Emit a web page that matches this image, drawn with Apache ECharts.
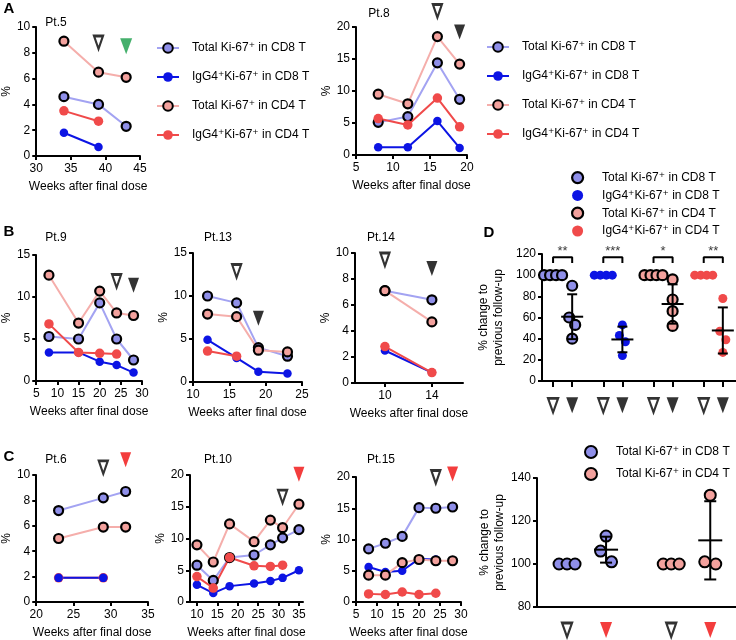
<!DOCTYPE html>
<html><head><meta charset="utf-8">
<script src="https://cdn.jsdelivr.net/npm/echarts@6/dist/echarts.min.js"></script>
<style>html,body{margin:0;padding:0;background:#fff}#c{width:736px;height:640px}</style>
</head><body><div id="c"></div>
<script>
// ================= DATA =================
const NAMES = ['Total Ki-67⁺ in CD8 T', 'IgG4⁺Ki-67⁺ in CD8 T', 'Total Ki-67⁺ in CD4 T', 'IgG4⁺Ki-67⁺ in CD4 T'];
const X_NAME = 'Weeks after final dose';
const Y_NAME = '%';
const D_Y_NAME = '% change to\nprevious follow-up';

// Pt.5
const pt5Weeks = [34, 39, 43];
const pt5TotalCD8 = [4.6, 4.0, 2.3];
const pt5IgG4CD8 = [1.8, 0.7];
const pt5TotalCD4 = [8.9, 6.5, 6.1];
const pt5IgG4CD4 = [3.5, 2.7];
const pt5ArrowWeeks = [39, 43];
const pt5ArrowLevels = [8.8, 8.5];
const pt5ArrowKinds = ['open', 'green'];

// Pt.8
const pt8Weeks = [8, 12, 16, 19];
const pt8TotalCD8 = [5.1, 6.0, 14.4, 8.7];
const pt8IgG4CD8 = [1.2, 1.2, 5.3, 1.1];
const pt8TotalCD4 = [9.5, 8.0, 18.5, 14.2];
const pt8IgG4CD4 = [5.7, 4.7, 8.9, 4.4];
const pt8ArrowWeeks = [16, 19];
const pt8ArrowLevels = [22.5, 19.2];
const pt8ArrowKinds = ['open', 'black'];

// Pt.9
const pt9Weeks = [8, 15, 20, 24, 28];
const pt9TotalCD8 = [5.3, 5.0, 9.3, 5.0, 2.5];
const pt9IgG4CD8 = [3.4, 3.4, 2.3, 1.9, 1.0];
const pt9TotalCD4 = [12.6, 6.9, 10.7, 8.1, 7.8];
const pt9IgG4CD4 = [6.8, 3.4, 3.3, 3.2];
const pt9ArrowWeeks = [24, 28];
const pt9ArrowLevels = [11.9, 11.4];
const pt9ArrowKinds = ['open', 'black'];

// Pt.13
const pt13Weeks = [12, 16, 19, 23];
const pt13TotalCD8 = [10.0, 9.2, 4.0, 3.0];
const pt13IgG4CD8 = [4.9, 2.8, 1.2, 1.0];
const pt13TotalCD4 = [7.9, 7.6, 3.7, 3.5];
const pt13IgG4CD4 = [3.6, 3.0];
const pt13ArrowWeeks = [16, 19];
const pt13ArrowLevels = [12.9, 7.4];
const pt13ArrowKinds = ['open', 'black'];

// Pt.14
const pt14Weeks = [10, 14];
const pt14TotalCD8 = [7.1, 6.4];
const pt14IgG4CD8 = [2.5, 0.8];
const pt14TotalCD4 = [7.1, 4.7];
const pt14IgG4CD4 = [2.8, 0.8];
const pt14ArrowWeeks = [10, 14];
const pt14ArrowLevels = [9.5, 8.8];
const pt14ArrowKinds = ['open', 'black'];
const pt14XTicks = [10, 14];

// Pt.6
const pt6Weeks = [23, 29, 32];
const pt6TotalCD8 = [7.2, 8.2, 8.7];
const pt6IgG4CD8 = [1.9, 1.9];
const pt6TotalCD4 = [5.0, 5.9, 5.9];
const pt6IgG4CD4 = [1.9, 1.9];
const pt6ArrowWeeks = [29, 32];
const pt6ArrowLevels = [10.6, 11.2];
const pt6ArrowKinds = ['open', 'red'];

// Pt.10
const pt10Weeks = [10, 14, 18, 24, 28, 31, 35];
const pt10TotalCD8 = [5.8, 3.4, 7.0, 7.4, 9.0, 10.1, 11.4];
const pt10IgG4CD8 = [2.7, 1.4, 2.5, 2.9, 3.3, 3.8, 5.0];
const pt10TotalCD4 = [9.0, 6.3, 12.3, 9.5, 12.9, 11.7, 15.4];
const pt10IgG4CD4 = [4.0, 2.2, 7.0, 5.7, 5.6, 5.8];
const pt10ArrowWeeks = [31, 35];
const pt10ArrowLevels = [16.6, 20.1];
const pt10ArrowKinds = ['open', 'red'];
const pt10XTicks = [10, 15, 20, 25, 30, 35];

// Pt.15
const pt15Weeks = [8, 12, 16, 20, 24, 28];
const pt15TotalCD8 = [8.5, 9.4, 10.5, 15.1, 15.0, 15.2];
const pt15IgG4CD8 = [5.6, 4.8, 5.0, 6.9, 6.8];
const pt15TotalCD4 = [4.3, 4.3, 6.3, 6.8, 6.6, 6.6];
const pt15IgG4CD4 = [1.3, 1.2, 1.6, 1.2, 1.4];
const pt15ArrowWeeks = [24, 28];
const pt15ArrowLevels = [20.0, 20.5];
const pt15ArrowKinds = ['open', 'red'];

// Panel D: % change to previous follow-up (before = open arrow, after = filled arrow)
const dBefore = [[100, 100, 100, 100], [100, 100, 100, 100], [100, 100, 100, 100], [100, 100, 100, 100]];
const dAfter = [[90, 60, 53, 40], [53, 43, 37, 24], [96, 77, 66, 52], [78, 47, 39, 27]];
const dStars = ['**', '***', '*', '**'];
const dYTicks = [0, 120, 20];

// Bottom-right panel (C summary)
const eBefore = [[100, 100, 100], [100, 100, 100]];
const eAfter = [[113, 106, 101], [132, 101, 100]];
const eYTicks = [80, 140, 20];

// ================= STYLE / LAYOUT =================
const FONT = "'Liberation Sans', Arial, 'DejaVu Sans', sans-serif";
const STY = [
  {color: '#8f8fe9', line: '#a3a3f2', size: 9, border: '#000', bw: 2.2},
  {color: '#0c14e4', line: '#0c14e4', size: 8.5, border: null, bw: 0},
  {color: '#f3a19d', line: '#f5aeab', size: 9, border: '#000', bw: 2.2},
  {color: '#f04a4a', line: '#f04a4a', size: 9.5, border: null, bw: 0}
];
const ARROW = {
  open: {size: [9, 13], style: {color: '#fff', borderColor: '#000', borderWidth: 2.4}},
  black: {size: [11, 15], style: {color: '#000'}},
  green: {size: [12, 16], style: {color: '#169c47'}},
  red: {size: [11, 15], style: {color: '#f00c0c'}}
};

const linePanels = [
  {title: 'Pt.5', tx: 56, ty: 23, g: [33, 27, 107, 129], x: [30, 45, 5], y: [0, 10, 2],
   weeks: pt5Weeks, vals: [pt5TotalCD8, pt5IgG4CD8, pt5TotalCD4, pt5IgG4CD4],
   aw: pt5ArrowWeeks, al: pt5ArrowLevels, ak: pt5ArrowKinds},
  {title: 'Pt.8', tx: 379, ty: 14, g: [356, 27, 111, 128], x: [5, 20, 5], y: [0, 20, 5],
   weeks: pt8Weeks, vals: [pt8TotalCD8, pt8IgG4CD8, pt8TotalCD4, pt8IgG4CD4],
   aw: pt8ArrowWeeks, al: pt8ArrowLevels, ak: pt8ArrowKinds},
  {title: 'Pt.9', tx: 56, ty: 238, g: [32, 255, 110, 126], x: [5, 30, 5], y: [0, 15, 5],
   weeks: pt9Weeks, vals: [pt9TotalCD8, pt9IgG4CD8, pt9TotalCD4, pt9IgG4CD4],
   aw: pt9ArrowWeeks, al: pt9ArrowLevels, ak: pt9ArrowKinds},
  {title: 'Pt.13', tx: 218, ty: 238, g: [193, 253, 109, 129], x: [10, 25, 5], y: [0, 15, 5],
   weeks: pt13Weeks, vals: [pt13TotalCD8, pt13IgG4CD8, pt13TotalCD4, pt13IgG4CD4],
   aw: pt13ArrowWeeks, al: pt13ArrowLevels, ak: pt13ArrowKinds},
  {title: 'Pt.14', tx: 381, ty: 238, g: [355, 253, 108, 130], x: [7.45, 16.65, null], xTicks: pt14XTicks, y: [0, 10, 2],
   weeks: pt14Weeks, vals: [pt14TotalCD8, pt14IgG4CD8, pt14TotalCD4, pt14IgG4CD4],
   aw: pt14ArrowWeeks, al: pt14ArrowLevels, ak: pt14ArrowKinds},
  {title: 'Pt.6', tx: 56, ty: 460, g: [35, 475, 113, 130], x: [20, 35, 5], y: [0, 10, 2],
   weeks: pt6Weeks, vals: [pt6TotalCD8, pt6IgG4CD8, pt6TotalCD4, pt6IgG4CD4], order: [0, 2, 3, 1],
   aw: pt6ArrowWeeks, al: pt6ArrowLevels, ak: pt6ArrowKinds},
  {title: 'Pt.10', tx: 218, ty: 460, g: [190, 475, 113, 130], x: [8.3, 36, null], xTicks: pt10XTicks, y: [0, 20, 5],
   weeks: pt10Weeks, vals: [pt10TotalCD8, pt10IgG4CD8, pt10TotalCD4, pt10IgG4CD4],
   aw: pt10ArrowWeeks, al: pt10ArrowLevels, ak: pt10ArrowKinds},
  {title: 'Pt.15', tx: 381, ty: 460, g: [356, 477, 105, 128], x: [5, 30, 5], y: [0, 20, 5],
   weeks: pt15Weeks, vals: [pt15TotalCD8, pt15IgG4CD8, pt15TotalCD4, pt15IgG4CD4],
   aw: pt15ArrowWeeks, al: pt15ArrowLevels, ak: pt15ArrowKinds}
];

const AX_LINE = {show: true, lineStyle: {color: '#000', width: 2}};
const AX_TICK = {show: true, length: 4, lineStyle: {color: '#000', width: 2}};
const AX_LABEL = {color: '#000', fontSize: 12, fontFamily: FONT};

const grids = [], xAxes = [], yAxes = [], series = [], graphics = [];

linePanels.forEach((p, i) => {
  grids.push({left: p.g[0], top: p.g[1], width: p.g[2], height: p.g[3]});
  const xa = {type: 'value', gridIndex: i, min: p.x[0], max: p.x[1],
    axisLine: AX_LINE, axisTick: Object.assign({}, AX_TICK), splitLine: {show: false},
    axisLabel: Object.assign({margin: 7}, AX_LABEL),
    name: X_NAME, nameLocation: 'middle', nameGap: 25,
    nameTextStyle: {color: '#000', fontSize: 12, fontFamily: FONT}};
  if (p.xTicks) {
    xa.axisLabel.customValues = p.xTicks;
    xa.axisTick.customValues = p.xTicks;
  } else {
    xa.interval = p.x[2];
  }
  xAxes.push(xa);
  yAxes.push({type: 'value', gridIndex: i, min: p.y[0], max: p.y[1], interval: p.y[2],
    axisLine: AX_LINE, axisTick: AX_TICK, splitLine: {show: false},
    axisLabel: Object.assign({margin: 6}, AX_LABEL),
    name: Y_NAME, nameLocation: 'middle', nameGap: 22,
    nameTextStyle: {color: '#000', fontSize: 12, fontFamily: FONT}});
  (p.order || [0, 1, 2, 3]).forEach(k => {
    const vals = p.vals[k];
    const st = STY[k];
    series.push({type: 'line', name: NAMES[k], xAxisIndex: i, yAxisIndex: i,
      data: vals.map((v, j) => [p.weeks[j], v]),
      symbol: 'circle', symbolSize: st.size, showSymbol: true, clip: false,
      lineStyle: {color: st.line, width: 2},
      itemStyle: {color: st.color, borderColor: st.border || st.color, borderWidth: st.bw},
      emphasis: {disabled: true}, silent: true});
  });
  series.push({type: 'scatter', xAxisIndex: i, yAxisIndex: i, symbol: 'triangle', symbolRotate: 180,
    clip: false, silent: true, z: 5,
    data: p.aw.map((w, j) => ({value: [w, p.al[j]], symbolSize: ARROW[p.ak[j]].size, itemStyle: ARROW[p.ak[j]].style}))});
  graphics.push({type: 'text', x: p.tx, y: p.ty,
    style: {text: p.title, fill: '#000', font: '12px ' + FONT, textAlign: 'center', textVerticalAlign: 'middle'}});
});

// ---------- helpers for dot plots ----------
function swarm(values, center, d, thresh) {
  const idx = values.map((v, i) => i).sort((a, b) => values[b] - values[a]);
  const out = new Array(values.length);
  let cl = [];
  const flush = () => { cl.forEach((ii, k) => { out[ii] = center + (k - (cl.length - 1) / 2) * d; }); cl = []; };
  idx.forEach(i => {
    if (cl.length && Math.abs(values[cl[cl.length - 1]] - values[i]) >= thresh) flush();
    cl.push(i);
  });
  flush();
  return out;
}
function meanSd(arr) {
  const m = arr.reduce((a, b) => a + b, 0) / arr.length;
  const sd = Math.sqrt(arr.reduce((a, b) => a + (b - m) * (b - m), 0) / (arr.length - 1));
  return [m, sd];
}
function errorBars(capPx, meanPx) {
  return function (params, api) {
    const x = api.value(0), m = api.value(1), s = api.value(2);
    const pm = api.coord([x, m]), pt = api.coord([x, m + s]), pb = api.coord([x, m - s]);
    const style = {stroke: '#000', lineWidth: 2};
    return {type: 'group', children: [
      {type: 'line', shape: {x1: pt[0], y1: pt[1], x2: pb[0], y2: pb[1]}, style},
      {type: 'line', shape: {x1: pt[0] - capPx, y1: pt[1], x2: pt[0] + capPx, y2: pt[1]}, style},
      {type: 'line', shape: {x1: pb[0] - capPx, y1: pb[1], x2: pb[0] + capPx, y2: pb[1]}, style},
      {type: 'line', shape: {x1: pm[0] - meanPx, y1: pm[1], x2: pm[0] + meanPx, y2: pm[1]}, style}
    ]};
  };
}

// ---------- Panel D ----------
const D = {idx: 8, g: [542, 254, 194, 127], xMax: 10.16, start: 0.58, pair: 1, gap: 1.63};
const dPos = [];
for (let k = 0; k < 4; k++) { const b = D.start + k * (D.pair + D.gap); dPos.push(b, b + D.pair); }
const dPx = D.g[2] / D.xMax;
grids.push({left: D.g[0], top: D.g[1], width: D.g[2], height: D.g[3]});
xAxes.push({type: 'value', gridIndex: D.idx, min: 0, max: D.xMax, axisLine: AX_LINE,
  axisTick: {show: true, length: 6, lineStyle: {color: '#000', width: 2}, customValues: dPos},
  axisLabel: {show: false, customValues: dPos}, splitLine: {show: false}});
yAxes.push({type: 'value', gridIndex: D.idx, min: dYTicks[0], max: dYTicks[1], interval: dYTicks[2],
  axisLine: AX_LINE, axisTick: AX_TICK, splitLine: {show: false}, axisLabel: Object.assign({margin: 6}, AX_LABEL),
  name: D_Y_NAME, nameLocation: 'middle', nameGap: 36,
  nameTextStyle: {color: '#000', fontSize: 12, lineHeight: 15, fontFamily: FONT}});
const dBars = [];
for (let k = 0; k < 4; k++) {
  const st = STY[k];
  const xb = swarm(dBefore[k], dPos[2 * k], 6 / dPx, 9);
  const xa = swarm(dAfter[k], dPos[2 * k + 1], 6 / dPx, 9);
  series.push({type: 'scatter', name: 'D' + k, xAxisIndex: D.idx, yAxisIndex: D.idx, symbol: 'circle',
    symbolSize: k % 2 === 0 ? 10 : 9, silent: true, clip: false, z: 3,
    itemStyle: {color: st.color, borderColor: st.border || st.color, borderWidth: st.bw, opacity: 1},
    data: dBefore[k].map((v, j) => [xb[j], v]).concat(dAfter[k].map((v, j) => [xa[j], v]))});
  const ms = meanSd(dAfter[k]);
  dBars.push([dPos[2 * k + 1], ms[0], ms[1]]);
  // significance bracket
  series.push({type: 'line', xAxisIndex: D.idx, yAxisIndex: D.idx, symbol: 'none', silent: true, clip: false,
    lineStyle: {color: '#000', width: 2},
    data: [[dPos[2 * k], 111.5], [dPos[2 * k], 117], [dPos[2 * k + 1], 117], [dPos[2 * k + 1], 111.5]]});
  series.push({type: 'scatter', xAxisIndex: D.idx, yAxisIndex: D.idx, symbolSize: 1, silent: true, clip: false,
    itemStyle: {color: 'rgba(0,0,0,0)'},
    label: {show: true, position: 'inside', formatter: dStars[k], color: '#000', fontSize: 13, fontFamily: FONT},
    data: [[(dPos[2 * k] + dPos[2 * k + 1]) / 2, 122]]});
}
series.push({type: 'custom', xAxisIndex: D.idx, yAxisIndex: D.idx, silent: true, z: 4,
  renderItem: errorBars(5, 11), data: dBars});
series.push({type: 'scatter', xAxisIndex: D.idx, yAxisIndex: D.idx, symbol: 'triangle', symbolRotate: 180,
  clip: false, silent: true,
  data: dPos.map((x, j) => ({value: [x, -23], symbolSize: j % 2 ? [12, 16] : [10, 14],
    itemStyle: j % 2 ? {color: '#000'} : ARROW.open.style}))});

// ---------- Bottom-right panel ----------
const E = {idx: 9, g: [537, 478, 199, 129], xMax: 5.1, start: 0.77, pair: 1, gap: 1.67};
const ePos = [];
for (let k = 0; k < 2; k++) { const b = E.start + k * (E.pair + E.gap); ePos.push(b, b + E.pair); }
const ePx = E.g[2] / E.xMax;
grids.push({left: E.g[0], top: E.g[1], width: E.g[2], height: E.g[3]});
xAxes.push({type: 'value', gridIndex: E.idx, min: 0, max: E.xMax, axisLine: AX_LINE,
  axisTick: {show: false}, axisLabel: {show: false}, splitLine: {show: false}});
yAxes.push({type: 'value', gridIndex: E.idx, min: eYTicks[0], max: eYTicks[1], interval: eYTicks[2],
  axisLine: AX_LINE, axisTick: AX_TICK, splitLine: {show: false}, axisLabel: Object.assign({margin: 6}, AX_LABEL),
  name: D_Y_NAME, nameLocation: 'middle', nameGap: 26,
  nameTextStyle: {color: '#000', fontSize: 12, lineHeight: 15, fontFamily: FONT}});
const eBars = [];
const eTypes = [0, 2];
for (let k = 0; k < 2; k++) {
  const st = STY[eTypes[k]];
  const xb = swarm(eBefore[k], ePos[2 * k], 8 / ePx, 5.5);
  const xa = swarm(eAfter[k], ePos[2 * k + 1], 11 / ePx, 5.5);
  series.push({type: 'scatter', name: 'E' + k, xAxisIndex: E.idx, yAxisIndex: E.idx, symbol: 'circle',
    symbolSize: 11, silent: true, clip: false, z: 3,
    itemStyle: {color: st.color, borderColor: '#000', borderWidth: 2, opacity: 1},
    data: eBefore[k].map((v, j) => [xb[j], v]).concat(eAfter[k].map((v, j) => [xa[j], v]))});
  const ms = meanSd(eAfter[k]);
  eBars.push([ePos[2 * k + 1], ms[0], ms[1]]);
}
series.push({type: 'custom', xAxisIndex: E.idx, yAxisIndex: E.idx, silent: true, z: 4,
  renderItem: errorBars(6, 12), data: eBars});
series.push({type: 'scatter', xAxisIndex: E.idx, yAxisIndex: E.idx, symbol: 'triangle', symbolRotate: 180,
  clip: false, silent: true,
  data: ePos.map((x, j) => ({value: [x, 69.3], symbolSize: j % 2 ? [12, 16] : [10, 14],
    itemStyle: j % 2 ? {color: '#f00c0c'} : ARROW.open.style}))});

// ---------- panel letters ----------
[['A', 9, 9], ['B', 9, 232], ['C', 9, 457], ['D', 489, 233]].forEach(t => {
  graphics.push({type: 'text', x: t[1], y: t[2],
    style: {text: t[0], fill: '#000', font: 'bold 15px ' + FONT, textAlign: 'center', textVerticalAlign: 'middle'}});
});

const LEG_TEXT = {color: '#000', fontSize: 12, fontFamily: FONT, padding: [0, 0, 0, 8]};
const D_LABEL = {D0: NAMES[0], D1: NAMES[1], D2: NAMES[2], D3: NAMES[3], E0: NAMES[0], E1: NAMES[2]};
const legends = [
  {orient: 'vertical', left: 151, top: 37, itemWidth: 22, itemHeight: 12, itemGap: 17, data: NAMES,
   textStyle: LEG_TEXT, selectedMode: false},
  {orient: 'vertical', left: 481, top: 36, itemWidth: 22, itemHeight: 12, itemGap: 17, data: NAMES,
   textStyle: LEG_TEXT, selectedMode: false},
  {orient: 'vertical', left: 566, top: 166, itemWidth: 11, itemHeight: 11, itemGap: 5.2, selectedMode: false,
   formatter: n => D_LABEL[n], textStyle: Object.assign({}, LEG_TEXT, {padding: [0, 0, 0, 14]}),
   data: [0, 1, 2, 3].map(k => ({name: 'D' + k, icon: 'circle',
     itemStyle: {color: STY[k].color, borderColor: STY[k].border || STY[k].color, borderWidth: STY[k].bw}}))},
  {orient: 'vertical', left: 579, top: 440, itemWidth: 12, itemHeight: 12, itemGap: 8, selectedMode: false,
   formatter: n => D_LABEL[n], textStyle: Object.assign({}, LEG_TEXT, {padding: [0, 0, 0, 14]}),
   data: [0, 1].map(k => ({name: 'E' + k, icon: 'circle',
     itemStyle: {color: STY[eTypes[k]].color, borderColor: '#000', borderWidth: 2}}))}
];

const chart = echarts.init(document.getElementById('c'));
chart.setOption({
  animation: false,
  backgroundColor: '#fff',
  textStyle: {fontFamily: FONT},
  grid: grids, xAxis: xAxes, yAxis: yAxes, series: series,
  legend: legends, graphic: graphics
});
</script></body></html>
